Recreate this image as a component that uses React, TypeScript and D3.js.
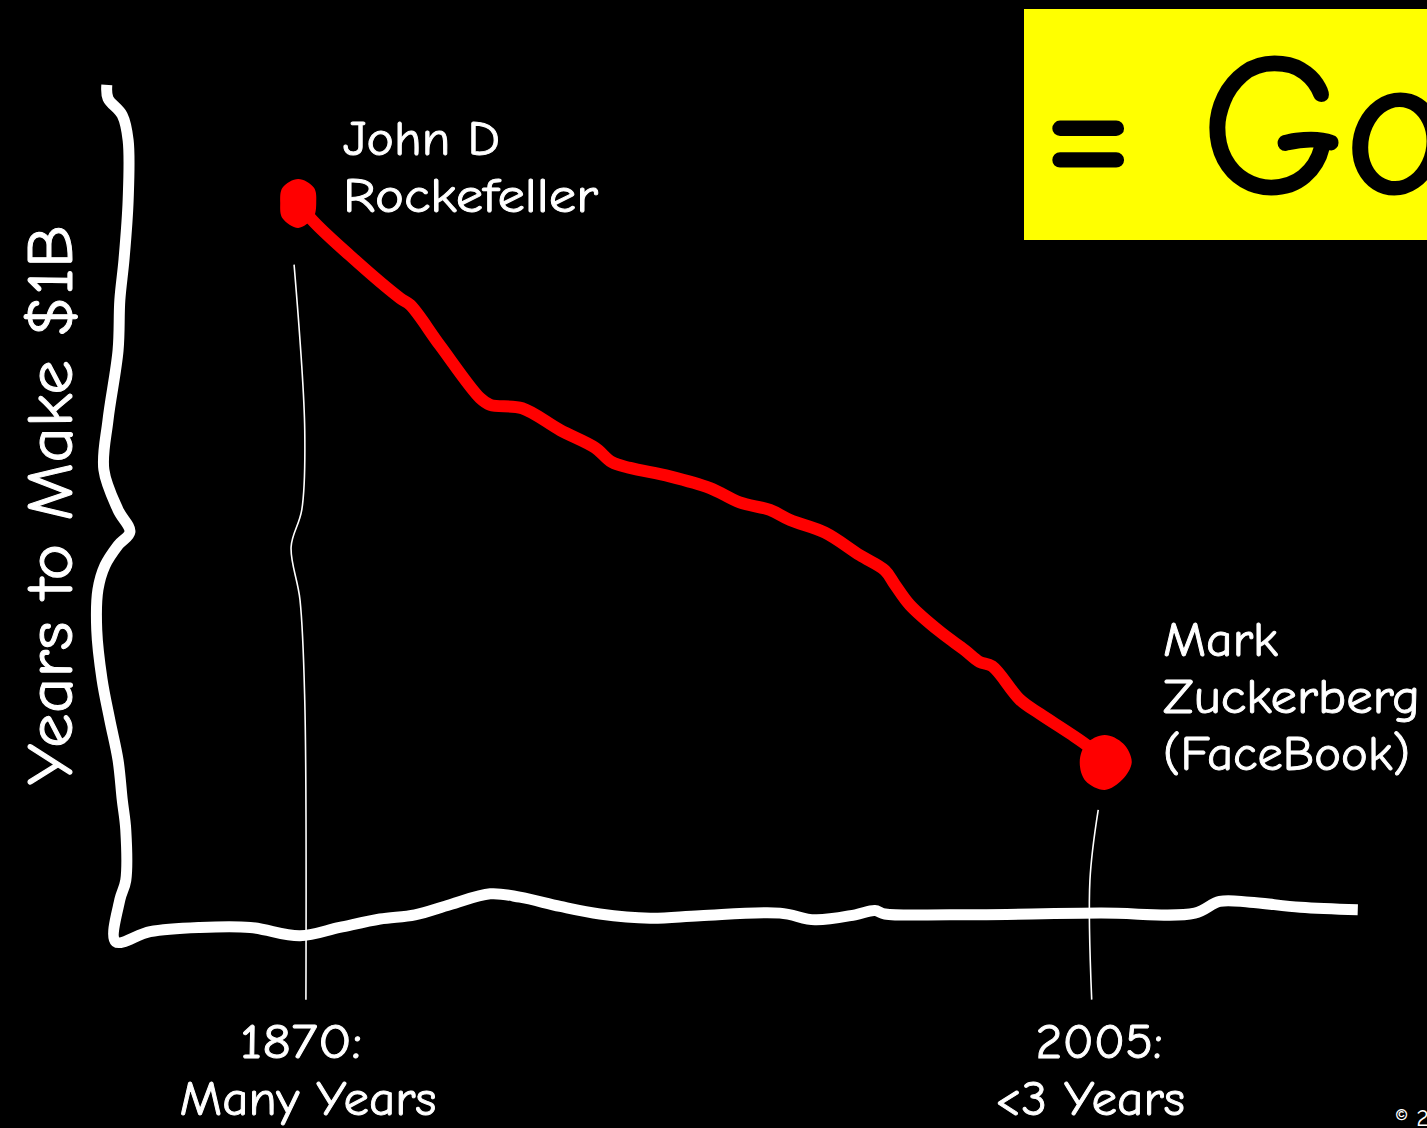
import React, { useEffect, useRef } from 'react';
import * as d3 from 'd3';

// the red "hand drawn" curve: [year, relative years-to-$1B]
const trendYears = [1869.7, 1871.7, 1878.4, 1886.9, 1888.6, 1893.6, 1900.4, 1902.1, 1907.5, 1913.9, 1919.8, 1922.6, 1925.7, 1932.4, 1939.2, 1944.2, 1949.3, 1952.7, 1958.6, 1964.5, 1968.7, 1970.4, 1972.9, 1978, 1982.2, 1984.7, 1986.8, 1991.5, 1994.9, 1999.9, 2003.3, 2005.8];
const trendValues = [88.1, 86.0, 81.5, 76.4, 75.6, 70.8, 64.5, 63.7, 63.3, 60.7, 58.6, 56.9, 56.2, 55.2, 53.8, 52.1, 51.2, 50.0, 48.5, 45.8, 44.0, 42.3, 39.9, 36.7, 34.5, 33.1, 32.6, 28.6, 26.9, 24.6, 22.9, 21.2];

// wobbly axes (y axis runs down, then the x axis runs right)
const axisYears = [1837.4, 1837.6, 1840.0, 1841.0, 1841.0, 1840.3, 1839.6, 1839.3, 1837.6, 1836.9, 1839.3, 1841.3, 1839.3, 1837.1, 1835.9, 1835.7, 1836.6, 1837.9, 1839.3, 1840.0, 1840.6, 1840.6, 1839.6, 1838.9,
  1844.7, 1853.1, 1861.6, 1870, 1876.7, 1883.5, 1889.4, 1895.3, 1902.1, 1907.1, 1913.9, 1920.6, 1929.1, 1937.5, 1951.0, 1956.9, 1963.7, 1967.0, 1968.7, 1979.7, 2005, 2021.0, 2025.2, 2030.3, 2038.8, 2048.5];
const axisValues = [101.8, 100.2, 98.2, 95.2, 88.1, 81.0, 76.2, 70.2, 61.9, 56.0, 51.2, 48.6, 47.0, 44.6, 41.7, 36.9, 31.0, 26.2, 21.4, 16.7, 13.1, 7.1, 4.8, -0.2,
  1.0, 1.5, 1.5, 0.5, 1.5, 2.5, 3.0, 4.2, 5.5, 5.1, 4.0, 3.1, 2.6, 2.9, 3.2, 2.4, 3.0, 3.5, 3.1, 3.0, 3.2, 3.2, 4.6, 4.5, 3.9, 3.6];

// thin leader lines to the two year labels
const leftLeaderYears = [1869.0, 1870.8, 1870.3, 1868.5, 1870, 1870.8, 1871.0];
const leftLeaderValues = [80.4, 60.7, 51.2, 46.8, 40.5, 28.6, -7.1];
const rightLeaderYears = [2004.7, 2003.3, 2003.6];
const rightLeaderValues = [15.5, 7.1, -7.1];

const tickYears = [1870, 2005];
const tickLabels = [['1870:', 'Many Years'], ['2005:', '<3 Years']];
const startLabel = ['John D', 'Rockefeller'];
const endLabel = ['Mark', 'Zuckerberg', '(FaceBook)'];
const yTitle = 'Years to Make $1B';
const banner = '= Google';

const startBlobR = [24, 22, 18, 21, 25, 22, 18, 22];
const endBlobR = [27, 26, 27, 25, 28, 27, 25, 26];

const FONT = '"Comic Sans MS", "Comic Neue", Lato, "Noto Sans", sans-serif';

export default function App() {
  const ref = useRef<SVGSVGElement>(null);

  useEffect(() => {
    const W = 1427, H = 1128;
    const svg = d3.select(ref.current);
    svg.selectAll('*').remove();

    const x = d3.scaleLinear().domain([1870, 2005]).range([300, 1100]);
    const y = d3.scaleLinear().domain([0, 100]).range([940, 100]);

    svg.append('rect').attr('width', W).attr('height', H).attr('fill', '#000');

    const line = d3.line<[number, number]>()
      .x(d => x(d[0])).y(d => y(d[1]))
      .curve(d3.curveCatmullRom);

    const zip = (a: number[], b: number[]) => a.map((v, i) => [v, b[i]] as [number, number]);

    // leader lines
    [zip(leftLeaderYears, leftLeaderValues), zip(rightLeaderYears, rightLeaderValues)].forEach(pts => {
      svg.append('path').attr('d', line(pts))
        .attr('fill', 'none').attr('stroke', '#fff').attr('stroke-width', 1.6);
    });

    // axes
    svg.append('path').attr('d', line(zip(axisYears, axisValues)))
      .attr('fill', 'none').attr('stroke', '#fff').attr('stroke-width', 11)
      .attr('stroke-linejoin', 'round');

    // red trend
    const trend = zip(trendYears, trendValues);
    svg.append('path').attr('d', line(trend))
      .attr('fill', 'none').attr('stroke', '#ff0000').attr('stroke-width', 12)
      .attr('stroke-linecap', 'round').attr('stroke-linejoin', 'round');

    const blob = (radii: number[]) => d3.lineRadial<number>()
      .angle((d, i) => (i / radii.length) * 2 * Math.PI)
      .radius(d => d)
      .curve(d3.curveCardinalClosed)(radii);

    const first = trend[0], last = trend[trend.length - 1];
    svg.append('path').attr('d', blob(startBlobR))
      .attr('transform', `translate(${x(first[0])},${y(first[1]) + 3})`).attr('fill', '#ff0000');
    svg.append('path').attr('d', blob(endBlobR))
      .attr('transform', `translate(${x(last[0])},${y(last[1])})`).attr('fill', '#ff0000');

    const txt = (s: string, px: number, py: number, size: number, len: number, anchor = 'start') =>
      svg.append('text').attr('x', px).attr('y', py).attr('fill', '#fff')
        .attr('stroke', '#fff').attr('stroke-width', 0.9)
        .attr('font-family', FONT).attr('font-size', size).attr('text-anchor', anchor)
        .attr('textLength', len).attr('lengthAdjust', 'spacingAndGlyphs')
        .text(s);

    const startLens = [157, 255];
    const endLens = [115, 257, 247];
    startLabel.forEach((s, i) => txt(s, 343, 155 + i * 57, 48, startLens[i]));
    endLabel.forEach((s, i) => txt(s, 1163, 656 + i * 57, 48, endLens[i]));

    const tickLens = [[122, 257], [127, 190]];
    const tickShift = [[1, 8], [-1, -10]];
    tickYears.forEach((yr, i) => {
      txt(tickLabels[i][0], x(yr) + tickShift[i][0], 1058, 48, tickLens[i][0], 'middle');
      txt(tickLabels[i][1], x(yr) + tickShift[i][1], 1115, 48, tickLens[i][1], 'middle');
    });

    svg.append('text')
      .attr('transform', 'translate(72,505) rotate(-90)')
      .attr('text-anchor', 'middle').attr('fill', '#fff')
      .attr('stroke', '#fff').attr('stroke-width', 1)
      .attr('font-family', FONT).attr('font-size', 64)
      .attr('textLength', 560).attr('lengthAdjust', 'spacingAndGlyphs')
      .text(yTitle);

    // yellow banner
    svg.append('rect').attr('x', 1024).attr('y', 9).attr('width', 420).attr('height', 231).attr('fill', '#ffff00');
    svg.append('text').attr('x', 1042).attr('y', 193).attr('fill', '#000')
      .attr('stroke', '#000').attr('stroke-width', 3)
      .attr('font-family', FONT).attr('font-size', 200).text(banner);

    svg.append('text').attr('x', 1395).attr('y', 1126).attr('fill', '#fff')
      .attr('font-family', FONT).attr('font-size', 24).text('© 2011');
  }, []);

  return (
    <svg ref={ref} width={1427} height={1128}
      style={{ position: 'absolute', left: 0, top: 0, display: 'block' }} />
  );
}
